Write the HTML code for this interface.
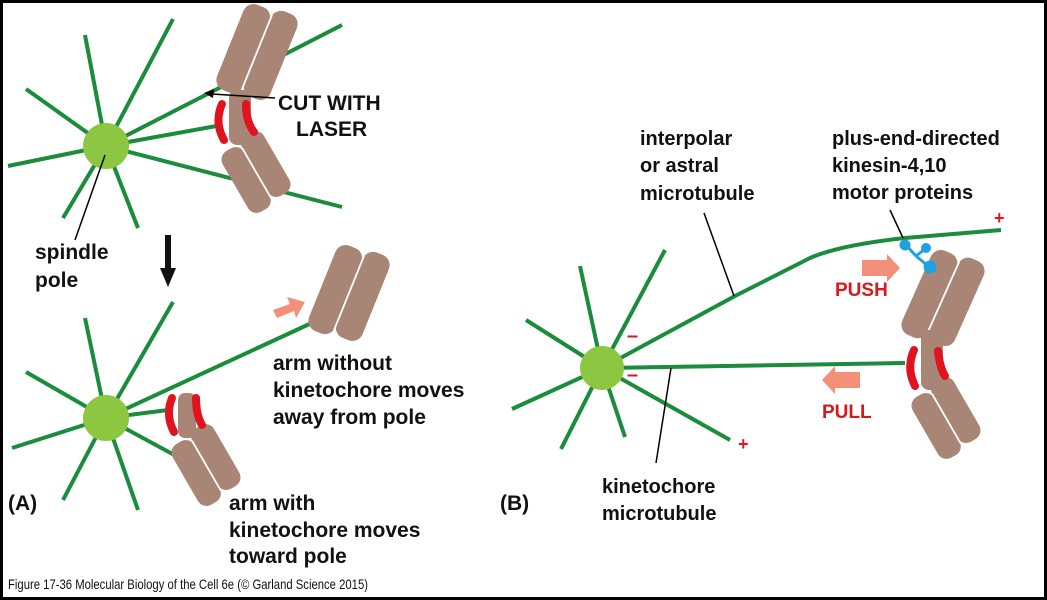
<!DOCTYPE html>
<html><head><meta charset="utf-8"><style>
html,body{margin:0;padding:0;background:#fff}
svg{display:block}
text{font-family:"Liberation Sans",sans-serif;font-weight:bold;fill:#111}
</style></head><body>
<svg width="1047" height="600" viewBox="0 0 1047 600" xmlns="http://www.w3.org/2000/svg">
<defs>
<g id="arm">
 <rect x="-28" y="-44" width="28" height="92" rx="11" fill="#a88574"/>
 <rect x="0" y="-48" width="28" height="92" rx="11" fill="#a88574"/>
 <line x1="0" y1="-40" x2="0" y2="40" stroke="#fff" stroke-width="1.8"/>
</g>
<g id="armS">
 <rect x="-25" y="-33" width="25" height="70" rx="10" fill="#a88574"/>
 <rect x="0" y="-37" width="25" height="70" rx="10" fill="#a88574"/>
 <line x1="0" y1="-28" x2="0" y2="30" stroke="#fff" stroke-width="1.8"/>
</g>
</defs>
<rect x="1.5" y="1.5" width="1044" height="597" fill="#fff" stroke="#000" stroke-width="3"/>
<g stroke="#1a8c3c" stroke-width="4" fill="none" stroke-linecap="butt">
 <line x1="106" y1="146" x2="85" y2="35"/><line x1="106" y1="146" x2="173" y2="19"/>
 <line x1="106" y1="146" x2="26" y2="89"/><line x1="106" y1="146" x2="8" y2="166"/>
 <line x1="106" y1="146" x2="63" y2="218"/><line x1="106" y1="146" x2="138" y2="228"/>
 <line x1="106" y1="146" x2="342" y2="25"/><line x1="106" y1="146" x2="222" y2="125"/>
 <line x1="106" y1="146" x2="342" y2="207"/>
 <line x1="106" y1="418" x2="85" y2="318"/><line x1="106" y1="418" x2="173" y2="302"/>
 <line x1="106" y1="418" x2="26" y2="372"/><line x1="106" y1="418" x2="12" y2="448"/>
 <line x1="106" y1="418" x2="63" y2="500"/><line x1="106" y1="418" x2="138" y2="510"/>
 <line x1="106" y1="418" x2="316" y2="321"/><line x1="106" y1="418" x2="168" y2="410"/>
 <line x1="106" y1="418" x2="178" y2="457"/>
 <line x1="602" y1="368" x2="665" y2="250"/><line x1="602" y1="368" x2="580" y2="266"/>
 <line x1="602" y1="368" x2="526" y2="320"/><line x1="602" y1="368" x2="512" y2="409"/>
 <line x1="602" y1="368" x2="561" y2="449"/><line x1="602" y1="368" x2="625" y2="437"/>
 <line x1="602" y1="368" x2="730" y2="440"/>
 <path d="M602,368 L735,296 L810,258 Q840,245 905,238 L1001,230"/>
 <line x1="602" y1="368" x2="905" y2="363"/>
</g>
<!-- chromosomes A top -->
<use href="#arm" transform="translate(257,52) rotate(22)"/>
<use href="#armS" transform="translate(256,172) rotate(-30)"/>
<rect x="229" y="90" width="22" height="55" rx="8" fill="#a88574"/>
<path d="M222,104 Q214,122 224,140" stroke="#e0141e" stroke-width="8" fill="none" stroke-linecap="round"/>
<path d="M246,104 Q246,122 254,132" stroke="#e0141e" stroke-width="8" fill="none" stroke-linecap="round"/>
<!-- A bottom -->
<use href="#arm" transform="translate(349,293) rotate(22)"/>
<use href="#armS" transform="translate(206,465) rotate(-30)"/>
<rect x="178" y="393" width="18" height="45" rx="7" fill="#a88574"/>
<path d="M172,398 Q165,415 174,432" stroke="#e0141e" stroke-width="8" fill="none" stroke-linecap="round"/>
<path d="M196,398 Q196,415 202,425" stroke="#e0141e" stroke-width="8" fill="none" stroke-linecap="round"/>
<!-- B chromosome -->
<use href="#arm" transform="translate(943,298) rotate(24)"/>
<use href="#armS" transform="translate(946,418) rotate(-30)"/>
<rect x="921" y="330" width="22" height="60" rx="8" fill="#a88574"/>
<path d="M914,350 Q906,368 915,386" stroke="#e0141e" stroke-width="8" fill="none" stroke-linecap="round"/>
<path d="M938,351 Q940,368 945,376" stroke="#e0141e" stroke-width="8" fill="none" stroke-linecap="round"/>
<!-- poles -->
<circle cx="106" cy="146" r="23" fill="#8dc641"/>
<circle cx="106" cy="418" r="23" fill="#8dc641"/>
<circle cx="602" cy="368" r="22" fill="#8dc641"/>
<!-- kinesin -->
<g stroke="#1fa0e0" stroke-width="3" fill="#1fa0e0">
 <line x1="906" y1="245" x2="916" y2="256"/><line x1="916" y1="256" x2="925" y2="249"/><line x1="916" y1="256" x2="928" y2="266"/>
 <circle cx="905" cy="245" r="4"/><circle cx="926" cy="248" r="3.5"/><circle cx="930" cy="267" r="5"/>
</g>
<g stroke="#000" stroke-width="1.5" fill="none">
 <line x1="275" y1="98" x2="212" y2="94"/>
 <line x1="105" y1="155" x2="75" y2="240"/>
 <line x1="704" y1="213" x2="734" y2="296"/>
 <line x1="890" y1="210" x2="903" y2="238"/>
 <line x1="671" y1="368" x2="656" y2="463"/>
</g>
<polygon points="204,93 214,89 213,98" fill="#000"/>
<rect x="165" y="235" width="6" height="35" fill="#111"/>
<polygon points="160,268 176,268 168,287" fill="#111"/>
<g fill="#f4907a">
 <polygon points="273,310 290,304 287,297 305,302 296,318 294,311 277,318"/>
 <polygon points="862,260 887,260 887,254 900,268 887,282 887,276 862,276"/>
 <polygon points="860,372 835,372 835,366 822,380 835,394 835,388 860,388"/>
</g>
<text x="278" y="110" font-size="21">CUT WITH</text>
<text x="296" y="136" font-size="21">LASER</text>
<text x="35" y="259" font-size="21">spindle</text>
<text x="35" y="287" font-size="21">pole</text>
<text x="273" y="370" font-size="21">arm without</text>
<text x="273" y="397" font-size="21">kinetochore moves</text>
<text x="273" y="424" font-size="21">away from pole</text>
<text x="229" y="510" font-size="21">arm with</text>
<text x="229" y="537" font-size="21">kinetochore moves</text>
<text x="229" y="563" font-size="21">toward pole</text>
<text x="8" y="510" font-size="21">(A)</text>
<text x="500" y="510" font-size="21">(B)</text>
<text x="640" y="145" font-size="20">interpolar</text>
<text x="640" y="172" font-size="20">or astral</text>
<text x="640" y="200" font-size="20">microtubule</text>
<text x="832" y="145" font-size="20">plus-end-directed</text>
<text x="832" y="172" font-size="20">kinesin-4,10</text>
<text x="832" y="199" font-size="20">motor proteins</text>
<text x="602" y="493" font-size="20">kinetochore</text>
<text x="602" y="520" font-size="20">microtubule</text>
<text x="835" y="296" font-size="19" style="fill:#d7191f">PUSH</text>
<text x="822" y="418" font-size="19" style="fill:#d7191f">PULL</text>
<text x="627" y="342" font-size="20" style="fill:#d7191f">–</text>
<text x="627" y="381" font-size="20" style="fill:#d7191f">–</text>
<text x="994" y="224" font-size="18" style="fill:#d7191f">+</text>
<text x="738" y="450" font-size="18" style="fill:#d7191f">+</text>
<text x="8" y="589" font-size="14" textLength="360" lengthAdjust="spacingAndGlyphs" style="font-weight:normal">Figure 17-36  Molecular Biology of the Cell 6e (© Garland Science 2015)</text>
</svg>
</body></html>
